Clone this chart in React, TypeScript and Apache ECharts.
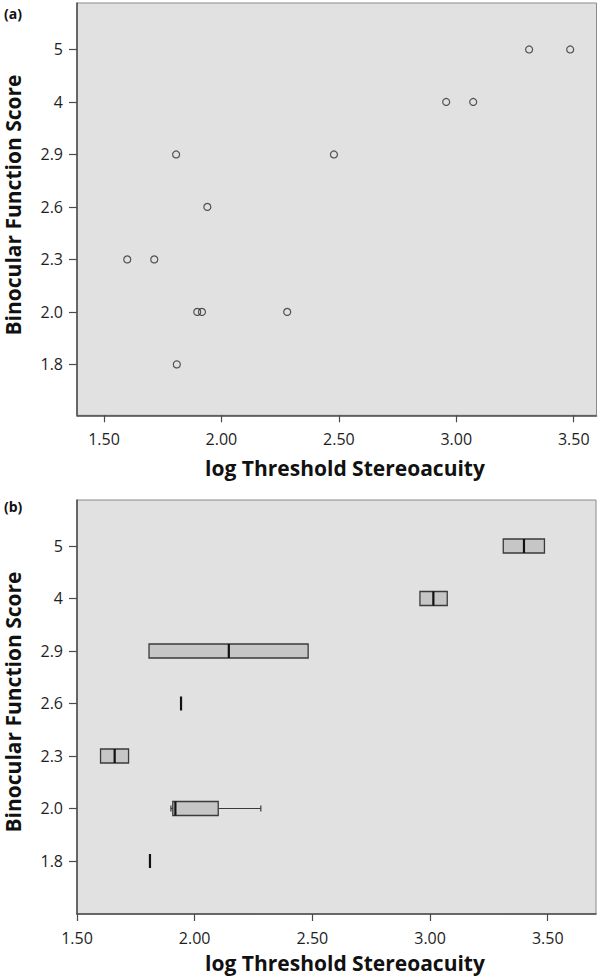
import React, { useEffect, useRef } from "react";
import * as echarts from "echarts";

// Categorical scores on the y axis (bottom to top)
const yCategories = ["1.8", "2.0", "2.3", "2.6", "2.9", "4", "5"];
const yPositions = [1, 2, 3, 4, 5, 6, 7];
// x-axis tick values
const xTicks = [1.5, 2.0, 2.5, 3.0, 3.5];

// Panel (a): scatter points
const scatterX = [3.31, 3.485, 2.957, 3.072, 1.807, 2.479, 1.94, 1.599, 1.714, 1.897, 1.917, 2.28, 1.81];
const scatterScore = ["5", "5", "4", "4", "2.9", "2.9", "2.6", "2.3", "2.3", "2.0", "2.0", "2.0", "1.8"];

// Panel (b): box-plot statistics per score
const boxScore = ["5", "4", "2.9", "2.6", "2.3", "2.0", "1.8"];
const boxLow = [3.311, 2.957, 1.806, 1.942, 1.6, 1.899, 1.81];
const boxQ1 = [3.311, 2.957, 1.806, 1.942, 1.6, 1.907, 1.81];
const boxMedian = [3.399, 3.014, 2.145, 1.942, 1.66, 1.918, 1.81];
const boxQ3 = [3.486, 3.073, 2.482, 1.942, 1.719, 2.1, 1.81];
const boxHigh = [3.486, 3.073, 2.482, 1.942, 1.719, 2.281, 1.81];

const FONT = "'Open Sans', 'Noto Sans', sans-serif";
const AXIS = "#4a4a4a";
const BG = "#e1e1e1";

function posOf(score: string) {
  return yPositions[yCategories.indexOf(score)];
}

function makeX(gridIndex: number, min: number, max: number, margin: number) {
  return {
    gridIndex,
    type: "value",
    min,
    max,
    axisLine: { show: true, onZero: false, lineStyle: { color: AXIS, width: 1.5 } },
    axisTick: { show: true, length: 7, customValues: xTicks, lineStyle: { color: AXIS, width: 1.2 } },
    axisLabel: {
      customValues: xTicks,
      formatter: (v: number) => v.toFixed(2),
      margin,
      fontSize: 16,
      fontFamily: FONT,
      color: "#1e1e1e",
    },
    splitLine: { show: false },
  };
}

function makeY(gridIndex: number, min: number, max: number) {
  return {
    gridIndex,
    type: "value",
    min,
    max,
    axisLine: { show: true, onZero: false, lineStyle: { color: AXIS, width: 1.5 } },
    axisTick: { show: true, length: 8, customValues: yPositions, lineStyle: { color: AXIS, width: 1.2 } },
    axisLabel: {
      customValues: yPositions,
      formatter: (v: number) => yCategories[Math.round(v) - 1] ?? "",
      margin: 14,
      fontSize: 16,
      fontFamily: FONT,
      color: "#1e1e1e",
    },
    splitLine: { show: false },
  };
}

export default function App() {
  const ref = useRef<HTMLDivElement>(null);
  useEffect(() => {
    document.body.style.margin = "0";
    const chart = echarts.init(ref.current!, null, { renderer: "svg" });

    const scatterData = scatterX.map((x, i) => [x, posOf(scatterScore[i])]);
    const boxData = boxScore.map((s, i) => [posOf(s), boxLow[i], boxQ1[i], boxMedian[i], boxQ3[i], boxHigh[i]]);

    const option: any = {
      animation: false,
      backgroundColor: "#ffffff",
      textStyle: { fontFamily: FONT },
      grid: [
        { left: 77, top: 3, width: 519.5, height: 412.3, show: true, backgroundColor: BG, borderColor: "#8a8a8a", borderWidth: 1 },
        { left: 77, top: 500, width: 519, height: 414, show: true, backgroundColor: BG, borderColor: "#8a8a8a", borderWidth: 1 },
      ],
      xAxis: [makeX(0, 1.385, 3.597, 16), makeX(1, 1.5, 3.705, 16)],
      yAxis: [makeY(0, 0.03, 7.885), makeY(1, -0.01, 7.876)],
      series: [
        {
          type: "scatter",
          xAxisIndex: 0,
          yAxisIndex: 0,
          data: scatterData,
          symbol: "circle",
          symbolSize: 7,
          itemStyle: { color: "rgba(0,0,0,0)", borderColor: "#2e2e2e", borderWidth: 1.2 },
          emphasis: { disabled: true },
        },
        {
          type: "custom",
          xAxisIndex: 1,
          yAxisIndex: 1,
          data: boxData,
          encode: { x: [1, 2, 3, 4, 5], y: 0 },
          renderItem: (params: any, api: any) => {
            const y = api.value(0);
            const lo = api.coord([api.value(1), y]);
            const q1 = api.coord([api.value(2), y]);
            const md = api.coord([api.value(3), y]);
            const q3 = api.coord([api.value(4), y]);
            const hi = api.coord([api.value(5), y]);
            const h = 14;
            const cy = md[1];
            const children: any[] = [];
            const stroke = { stroke: "#3a3a3a", lineWidth: 1.2 };
            if (lo[0] < q1[0] - 0.5) {
              children.push({ type: "line", shape: { x1: lo[0], y1: cy, x2: q1[0], y2: cy }, style: stroke });
              children.push({ type: "line", shape: { x1: lo[0], y1: cy - 3, x2: lo[0], y2: cy + 3 }, style: stroke });
            }
            if (hi[0] > q3[0] + 0.5) {
              children.push({ type: "line", shape: { x1: q3[0], y1: cy, x2: hi[0], y2: cy }, style: stroke });
              children.push({ type: "line", shape: { x1: hi[0], y1: cy - 3, x2: hi[0], y2: cy + 3 }, style: stroke });
            }
            if (q3[0] - q1[0] > 0.5) {
              children.push({
                type: "rect",
                shape: { x: q1[0], y: cy - h / 2, width: q3[0] - q1[0], height: h },
                style: { fill: "#c6c6c6", stroke: "#3a3a3a", lineWidth: 1.3 },
              });
            }
            children.push({
              type: "line",
              shape: { x1: md[0], y1: cy - h / 2, x2: md[0], y2: cy + h / 2 },
              style: { stroke: "#111111", lineWidth: 2.2 },
            });
            return { type: "group", children };
          },
        },
      ],
      graphic: [
        { type: "text", x: 4, y: 13, style: { text: "(a)", fontSize: 14, fontWeight: "bold", fontFamily: FONT, fill: "#111", verticalAlign: "middle" } },
        { type: "text", x: 4, y: 506, style: { text: "(b)", fontSize: 14, fontWeight: "bold", fontFamily: FONT, fill: "#111", verticalAlign: "middle" } },
        { type: "text", x: 13, y: 205, rotation: Math.PI / 2, style: { text: "Binocular Function Score", fontSize: 21, fontWeight: "bold", fontFamily: FONT, fill: "#111", align: "center", verticalAlign: "middle" } },
        { type: "text", x: 13, y: 702, rotation: Math.PI / 2, style: { text: "Binocular Function Score", fontSize: 21, fontWeight: "bold", fontFamily: FONT, fill: "#111", align: "center", verticalAlign: "middle" } },
        { type: "text", x: 345, y: 468, style: { text: "log Threshold Stereoacuity", fontSize: 21, fontWeight: "bold", fontFamily: FONT, fill: "#111", align: "center", verticalAlign: "middle" } },
        { type: "text", x: 345, y: 963, style: { text: "log Threshold Stereoacuity", fontSize: 21, fontWeight: "bold", fontFamily: FONT, fill: "#111", align: "center", verticalAlign: "middle" } },
      ],
    };
    chart.setOption(option);
    return () => chart.dispose();
  }, []);
  return <div ref={ref} style={{ width: 600, height: 976 }} />;
}
